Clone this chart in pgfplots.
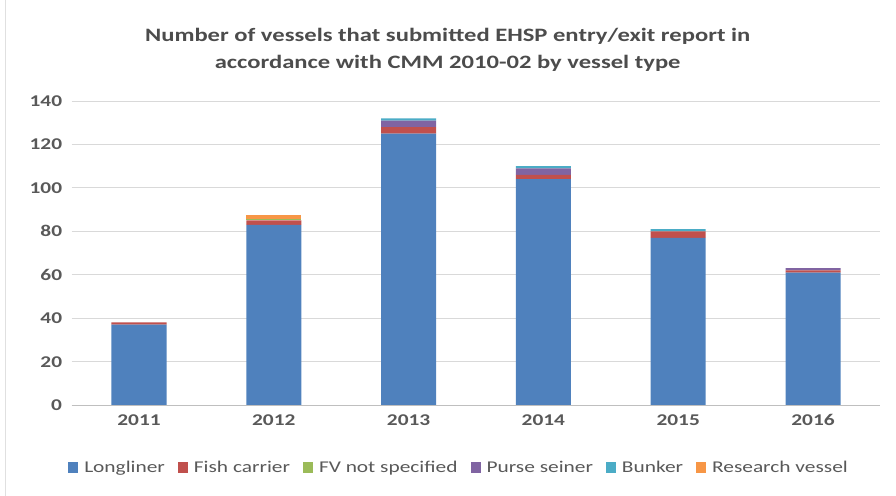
\documentclass[border=0pt]{standalone}
\usepackage{pgfplots}
\pgfplotsset{compat=1.18}
\usepackage{fontspec}
\setmainfont{Carlito}[FakeStretch=1.3]
\definecolor{cLong}{HTML}{4F81BD}
\definecolor{cFish}{HTML}{C0504D}
\definecolor{cFV}{HTML}{9BBB59}
\definecolor{cPurse}{HTML}{8064A2}
\definecolor{cBunk}{HTML}{4BACC6}
\definecolor{cRes}{HTML}{F79646}
\definecolor{txt}{HTML}{595959}
\begin{document}
\begin{tikzpicture}
\useasboundingbox (0,0) rectangle (896bp,496bp);
\draw[black!12, line width=1pt] (5bp,0) -- (5bp,496bp);
\begin{axis}[
  at={(71.6bp,91bp)}, anchor=south west,
  scale only axis, width=808.8bp, height=304bp,
  ybar stacked, bar width=55bp,
  xmin=-0.5, xmax=5.5, ymin=0, ymax=140,
  xtick={0,...,5}, xticklabels={2011,2012,2013,2014,2015,2016},
  ytick={0,20,...,140},
  ymajorgrids, grid style={draw=black!15, line width=0.8pt},
  y axis line style={draw=none},
  axis x line*=bottom,
  x axis line style={draw=black!25, line width=0.8pt, -},
  tick style={draw=none},
  ticklabel style={font=\fontsize{16.5}{18}\selectfont\bfseries, text=txt, text height=11bp, text depth=0pt},
  /pgf/number format/assume math mode=true,
  yticklabel style={xshift=-6bp},
  xticklabel style={yshift=-6bp},
  title={Number of vessels that submitted EHSP entry/exit report in\\accordance with CMM 2010-02 by vessel type},
  title style={at={(0.465,1.15)}, anchor=center, align=center, font=\fontsize{19}{27}\selectfont\bfseries, text=black!70},
  legend style={at={(0.479,-0.207)}, anchor=center, draw=none, legend columns=-1,
    font=\fontsize{16.5}{18}\selectfont, text=txt,
    /tikz/every odd column/.append style={column sep=4bp},
    /tikz/every even column/.append style={column sep=11bp}},
  legend image code/.code={\fill[#1] (0bp,-5.5bp) rectangle (10bp,5.5bp);},
]
\addplot[fill=cLong, draw=none] coordinates {(0,37) (1,83) (2,125) (3,104) (4,77) (5,61)};
\addplot[fill=cFish, draw=none] coordinates {(0,1) (1,2) (2,3) (3,2) (4,3) (5,1)};
\addplot[fill=cFV, draw=none] coordinates {(0,0) (1,0.5) (2,0) (3,0) (4,0) (5,0)};
\addplot[fill=cPurse, draw=none] coordinates {(0,0) (1,0) (2,3) (3,3) (4,0) (5,1)};
\addplot[fill=cBunk, draw=none] coordinates {(0,0) (1,0) (2,1) (3,1) (4,1) (5,0)};
\addplot[fill=cRes, draw=none] coordinates {(0,0) (1,2) (2,0) (3,0) (4,0) (5,0)};
\legend{Longliner, Fish carrier, FV not specified, Purse seiner, Bunker, Research vessel}
\end{axis}
\end{tikzpicture}
\end{document}
